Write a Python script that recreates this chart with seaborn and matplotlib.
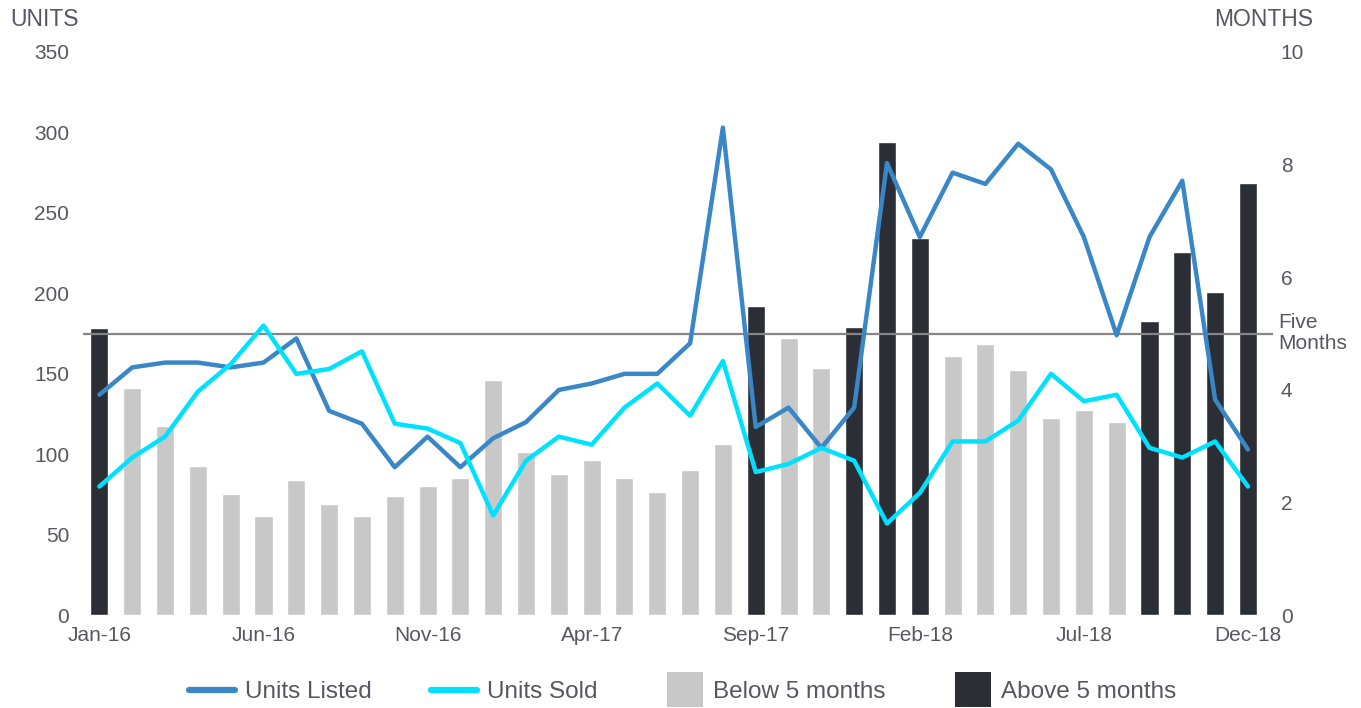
import numpy as np
import pandas as pd
import matplotlib
matplotlib.use("Agg")
import matplotlib.pyplot as plt
import matplotlib.patches as mpatches
from matplotlib.legend_handler import HandlerPatch
from matplotlib.lines import Line2D
import seaborn as sns

months_lbl = ["Jan-16", "Feb-16", "Mar-16", "Apr-16", "May-16", "Jun-16", "Jul-16", "Aug-16",
              "Sep-16", "Oct-16", "Nov-16", "Dec-16", "Jan-17", "Feb-17", "Mar-17", "Apr-17",
              "May-17", "Jun-17", "Jul-17", "Aug-17", "Sep-17", "Oct-17", "Nov-17", "Dec-17",
              "Jan-18", "Feb-18", "Mar-18", "Apr-18", "May-18", "Jun-18", "Jul-18", "Aug-18",
              "Sep-18", "Oct-18", "Nov-18", "Dec-18"]

units_listed = [137, 154, 157, 157, 154, 157, 172, 127, 119, 92, 111, 92,
                110, 120, 140, 144, 150, 150, 169, 303, 117, 129, 104, 129,
                281, 235, 275, 268, 293, 277, 235, 174, 235, 270, 134, 103]

units_sold = [80, 98, 111, 139, 156, 180, 150, 153, 164, 119, 116, 107,
              62, 96, 111, 106, 129, 144, 124, 158, 89, 94, 104, 96,
              57, 76, 108, 108, 121, 150, 133, 137, 104, 98, 108, 80]

months_supply = [5.10, 4.03, 3.36, 2.65, 2.15, 1.76, 2.40, 1.97, 1.76, 2.11, 2.29, 2.43,
                 4.17, 2.90, 2.50, 2.75, 2.43, 2.18, 2.58, 3.04, 5.49, 4.92, 4.39, 5.12,
                 8.40, 6.70, 4.60, 4.81, 4.35, 3.50, 3.64, 3.43, 5.22, 6.45, 5.74, 7.67]

threshold = 5
xtick_labels = ["Jan-16", "Jun-16", "Nov-16", "Apr-17", "Sep-17", "Feb-18", "Jul-18", "Dec-18"]

DARK = "#2b2e35"
LIGHT = "#c8c8c8"
C_LISTED = "#3a87c8"
C_SOLD = "#00e1ff"
TXT = "#5a5560"

sns.set_theme(style="white")
plt.rcParams["font.family"] = ["Liberation Sans", "DejaVu Sans"]

status = ["Above 5 months" if m > threshold else "Below 5 months" for m in months_supply]
df = pd.DataFrame({"month": months_lbl, "supply": months_supply, "status": status,
                   "idx": np.arange(len(months_lbl)), "listed": units_listed, "sold": units_sold})

fig = plt.figure(figsize=(13.61, 7.08), dpi=100)
ax = fig.add_axes([0.061, 0.131, 0.874, 0.7956])

sns.barplot(data=df, x="month", y="supply", hue="status", order=months_lbl,
            hue_order=["Below 5 months", "Above 5 months"],
            palette={"Below 5 months": LIGHT, "Above 5 months": DARK},
            dodge=False, width=0.55, ax=ax, legend=False, saturation=1)
ax.set_ylim(0, 10)
ax.set_xlim(-0.5, 35.75)
ax.axhline(threshold, color="#858585", lw=1.6, zorder=3)
ax.set_yticks([0, 2, 4, 6, 8, 10])
ax.set_xticks(range(0, 36, 5))
ax.set_xticklabels(xtick_labels)
ax.set_xlabel("")
ax.set_ylabel("")

ax2 = ax.twinx()
sns.lineplot(data=df, x="idx", y="listed", color=C_LISTED, lw=3.2, ax=ax2)
sns.lineplot(data=df, x="idx", y="sold", color=C_SOLD, lw=3.2, ax=ax2)
ax2.set_ylim(0, 350)
ax2.set_xlim(-0.5, 35.75)
ax2.set_yticks(range(0, 351, 50))
ax2.set_xlabel("")
ax2.set_ylabel("")

# swap sides: units (lines) on left, months (bars) on right
ax.yaxis.tick_right()
ax2.yaxis.tick_left()

for a in (ax, ax2):
    for s in a.spines.values():
        s.set_visible(False)
    a.tick_params(axis="both", length=0, labelsize=15, labelcolor=TXT)
ax.tick_params(axis="x", pad=8)
ax.tick_params(axis="y", pad=6)
ax2.tick_params(axis="y", pad=10)

fig.text(10 / 1361, 1 - 20 / 708, "UNITS", fontsize=16.5, color=TXT, va="center", ha="left")
fig.text(1313 / 1361, 1 - 20 / 708, "MONTHS", fontsize=16.5, color=TXT, va="center", ha="right")
fig.text(1278 / 1361, 1 - 333 / 708, "Five\nMonths", fontsize=15, color=TXT, va="center",
         ha="left", linespacing=1.15)


class SquareHandler(HandlerPatch):
    def create_artists(self, legend, orig_handle, xdescent, ydescent, width, height, fontsize, trans):
        size = height * 2.1
        p = mpatches.Rectangle((width - size - xdescent, -ydescent + height / 2 - size / 2),
                               size, size, facecolor=orig_handle.get_facecolor(),
                               edgecolor="none", transform=trans)
        return [p]


handles = [Line2D([], [], color=C_LISTED, lw=4.5),
           Line2D([], [], color=C_SOLD, lw=4.5),
           mpatches.Patch(facecolor=LIGHT),
           mpatches.Patch(facecolor=DARK)]
labels = ["Units Listed", "Units Sold", "Below 5 months", "Above 5 months"]
leg = fig.legend(handles, labels, loc="center", bbox_to_anchor=(0.5 + 2 / 1361, 1 - 692 / 708), ncol=4,
                 frameon=False, fontsize=17.5, handlelength=1.9, columnspacing=2.45,
                 handletextpad=0.4,
                 handler_map={mpatches.Patch: SquareHandler()})
for t in leg.get_texts():
    t.set_color(TXT)

fig.savefig("out.png", dpi=100)
